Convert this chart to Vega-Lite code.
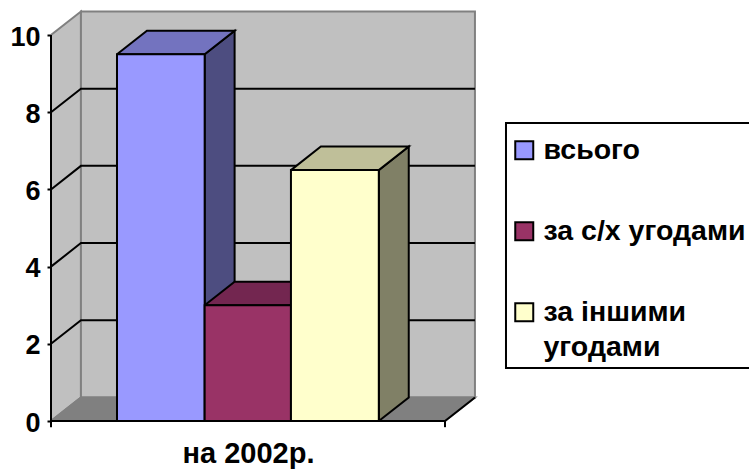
{
"$schema":"https://vega.github.io/schema/vega-lite/v6.json",
"width":749,"height":470,"padding":0,"autosize":{"type":"none"},"background":"white",
"config":{"view":{"stroke":null},"font":"Liberation Sans"},
"datasets":{
"walls":[
{"part":"стіна ліва","n":1,"x":0,"y":0},{"part":"стіна ліва","n":2,"x":0.076,"y":0.61},{"part":"стіна ліва","n":3,"x":0.076,"y":10.61},{"part":"стіна ліва","n":4,"x":0,"y":10},{"part":"стіна ліва","n":5,"x":0,"y":0},
{"part":"стіна задня","n":1,"x":0.076,"y":0.61},{"part":"стіна задня","n":2,"x":1.076,"y":0.61},{"part":"стіна задня","n":3,"x":1.076,"y":10.61},{"part":"стіна задня","n":4,"x":0.076,"y":10.61},{"part":"стіна задня","n":5,"x":0.076,"y":0.61},
{"part":"підлога","n":1,"x":0,"y":0},{"part":"підлога","n":2,"x":1,"y":0},{"part":"підлога","n":3,"x":1.076,"y":0.61},{"part":"підлога","n":4,"x":0.076,"y":0.61},{"part":"підлога","n":5,"x":0,"y":0}
],
"grid":[
{"v":2,"n":1,"x":0,"y":2},{"v":2,"n":2,"x":0.076,"y":2.61},{"v":2,"n":3,"x":1.076,"y":2.61},
{"v":4,"n":1,"x":0,"y":4},{"v":4,"n":2,"x":0.076,"y":4.61},{"v":4,"n":3,"x":1.076,"y":4.61},
{"v":6,"n":1,"x":0,"y":6},{"v":6,"n":2,"x":0.076,"y":6.61},{"v":6,"n":3,"x":1.076,"y":6.61},
{"v":8,"n":1,"x":0,"y":8},{"v":8,"n":2,"x":0.076,"y":8.61},{"v":8,"n":3,"x":1.076,"y":8.61}
],
"bars":[
{"part":"всього бік","n":1,"x":0.39,"y":0},{"part":"всього бік","n":2,"x":0.466,"y":0.61},{"part":"всього бік","n":3,"x":0.466,"y":10.11},{"part":"всього бік","n":4,"x":0.39,"y":9.5},{"part":"всього бік","n":5,"x":0.39,"y":0},
{"part":"всього верх","n":1,"x":0.1675,"y":9.5},{"part":"всього верх","n":2,"x":0.39,"y":9.5},{"part":"всього верх","n":3,"x":0.466,"y":10.11},{"part":"всього верх","n":4,"x":0.2435,"y":10.11},{"part":"всього верх","n":5,"x":0.1675,"y":9.5},
{"part":"всього","n":1,"x":0.1675,"y":0},{"part":"всього","n":2,"x":0.39,"y":0},{"part":"всього","n":3,"x":0.39,"y":9.5},{"part":"всього","n":4,"x":0.1675,"y":9.5},{"part":"всього","n":5,"x":0.1675,"y":0},
{"part":"за с/х верх","n":1,"x":0.39,"y":3},{"part":"за с/х верх","n":2,"x":0.609,"y":3},{"part":"за с/х верх","n":3,"x":0.685,"y":3.61},{"part":"за с/х верх","n":4,"x":0.466,"y":3.61},{"part":"за с/х верх","n":5,"x":0.39,"y":3},
{"part":"за с/х угодами","n":1,"x":0.39,"y":0},{"part":"за с/х угодами","n":2,"x":0.609,"y":0},{"part":"за с/х угодами","n":3,"x":0.609,"y":3},{"part":"за с/х угодами","n":4,"x":0.39,"y":3},{"part":"за с/х угодами","n":5,"x":0.39,"y":0},
{"part":"за іншими бік","n":1,"x":0.832,"y":0},{"part":"за іншими бік","n":2,"x":0.908,"y":0.61},{"part":"за іншими бік","n":3,"x":0.908,"y":7.11},{"part":"за іншими бік","n":4,"x":0.832,"y":6.5},{"part":"за іншими бік","n":5,"x":0.832,"y":0},
{"part":"за іншими верх","n":1,"x":0.609,"y":6.5},{"part":"за іншими верх","n":2,"x":0.832,"y":6.5},{"part":"за іншими верх","n":3,"x":0.908,"y":7.11},{"part":"за іншими верх","n":4,"x":0.685,"y":7.11},{"part":"за іншими верх","n":5,"x":0.609,"y":6.5},
{"part":"за іншими угодами","n":1,"x":0.609,"y":0},{"part":"за іншими угодами","n":2,"x":0.832,"y":0},{"part":"за іншими угодами","n":3,"x":0.832,"y":6.5},{"part":"за іншими угодами","n":4,"x":0.609,"y":6.5},{"part":"за іншими угодами","n":5,"x":0.609,"y":0}
],
"frame":[
{"id":"вісь y","n":1,"x":0,"y":0},{"id":"вісь y","n":2,"x":0,"y":10},
{"id":"вісь x","n":1,"x":0,"y":0},{"id":"вісь x","n":2,"x":1,"y":0},
{"id":"край","n":1,"x":1,"y":0},{"id":"край","n":2,"x":1.076,"y":0.61},
{"id":"тік 0","n":1,"x":0,"y":0},{"id":"тік 0","n":2,"x":0,"y":-0.16},
{"id":"тік 1","n":1,"x":1,"y":0},{"id":"тік 1","n":2,"x":1,"y":-0.16},
{"id":"рамка","n":1,"x":1.8,"y":7.72},{"id":"рамка","n":2,"x":1.1548,"y":7.72},{"id":"рамка","n":3,"x":1.1548,"y":1.373},{"id":"рамка","n":4,"x":1.8,"y":1.373}
]
},
"encoding":{
"x":{"field":"x","type":"quantitative","scale":{"domain":[-0.12944,1.77157],"nice":false,"zero":false},
"axis":{"orient":"bottom","offset":-49,"values":[0.5],"labelExpr":"'на 2002р.'","ticks":false,"domain":false,"grid":false,"title":null,"labelFont":"Liberation Sans","labelFontWeight":"bold","labelFontSize":29,"labelColor":"black","labelPadding":18}},
"y":{"field":"y","type":"quantitative","scale":{"domain":[-1.269,10.907],"nice":false,"zero":false},
"axis":{"orient":"left","offset":-51,"values":[0,2,4,6,8,10],"domain":false,"grid":false,"title":null,"tickColor":"black","tickWidth":2,"tickSize":4,"labelFont":"Liberation Sans","labelFontWeight":"bold","labelFontSize":27,"labelColor":"black","labelPadding":7,"labelOffset":2}},
"order":{"field":"n","type":"ordinal"}
},
"layer":[
{"data":{"name":"walls"},"mark":{"type":"line","stroke":"#808080","strokeWidth":2,"strokeJoin":"miter"},
 "encoding":{"fill":{"field":"part","type":"nominal","scale":{"domain":["стіна ліва","стіна задня","підлога","всього","за с/х угодами","за іншими угодами","всього бік","всього верх","за с/х верх","за іншими бік","за іншими верх"],"range":["#C0C0C0","#C0C0C0","#808080","#9999FF","#993366","#FFFFCC","#4D4D80","#7373BF","#732650","#808066","#BFBF99"]},
 "legend":{"orient":"none","legendX":510,"legendY":136,"values":["всього","за с/х угодами","за іншими угодами"],"title":null,"symbolType":"square","symbolSize":324,"symbolStrokeColor":"black","symbolStrokeWidth":2,"symbolOpacity":1,"padding":0,"rowPadding":52,"labelOffset":5,"labelFont":"Liberation Sans","labelFontWeight":"bold","labelFontSize":28.5,"labelColor":"black","labelLimit":300,"labelExpr":"datum.label == 'за іншими угодами' ? ['за іншими','угодами'] : datum.label","encoding":{"labels":{"lineHeight":{"value":35}}}}}}},
{"data":{"name":"grid"},"mark":{"type":"line","stroke":"black","strokeWidth":2},"encoding":{"detail":{"field":"v"}}},
{"data":{"name":"bars"},"mark":{"type":"line","stroke":"black","strokeWidth":2,"strokeJoin":"miter"},
 "encoding":{"fill":{"field":"part","type":"nominal"}}},
{"data":{"name":"frame"},"mark":{"type":"line","stroke":"black","strokeWidth":2},"encoding":{"detail":{"field":"id"}}}
]
}
